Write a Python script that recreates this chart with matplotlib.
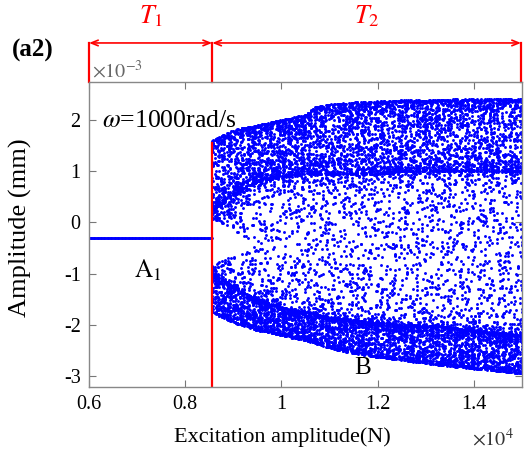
import numpy as np
import matplotlib
matplotlib.use('Agg')
import matplotlib.pyplot as plt
from matplotlib.transforms import blended_transform_factory

plt.rcParams['font.family'] = ['Liberation Serif', 'DejaVu Serif']
plt.rcParams['mathtext.fontset'] = 'stix'
plt.rcParams['axes.unicode_minus'] = False

# ---- values (x in 1e4 N, amplitude in 1e-3 m) ----
f_start, f_jump, f_end = 0.6, 0.856, 1.5
amp_periodic = -0.30          # single branch A1 before the jump
jump_top = 1.55               # top of the red jump line

# envelope of the chaotic region B
env_x = [0.856, 0.90, 0.95, 1.00, 1.05, 1.07, 1.10, 1.15, 1.20, 1.25, 1.30, 1.35, 1.40, 1.45, 1.50]
env_upper = [1.60, 1.80, 1.90, 2.00, 2.10, 2.25, 2.30, 2.34, 2.36, 2.38, 2.38, 2.40, 2.40, 2.42, 2.40]
env_top_band = [0.25, 0.55, 0.80, 0.90, 0.95, 0.95, 0.95, 0.95, 0.95, 1.00, 1.00, 1.00, 1.00, 1.00, 1.00]
env_bot_band = [-1.00, -1.25, -1.50, -1.65, -1.75, -1.78, -1.85, -1.90, -1.95, -2.00, -2.00, -2.05, -2.10, -2.15, -2.20]
env_lower = [-1.75, -1.95, -2.10, -2.20, -2.30, -2.35, -2.45, -2.55, -2.62, -2.68, -2.75, -2.80, -2.85, -2.90, -2.95]

# white wedge just after the jump
gap_x = [0.856, 0.90, 0.95]
gap_hi = [0.08, -0.15, -0.41]
gap_lo = [-0.84, -0.62, -0.41]

xtick_vals = [0.6, 0.8, 1.0, 1.2, 1.4]
xtick_labels = ['0.6', '0.8', '1', '1.2', '1.4']
ytick_vals = [-3, -2, -1, 0, 1, 2]

# ---- sweep of the excitation amplitude ----
F1 = np.linspace(f_start, f_jump, 160)
F2 = np.linspace(f_jump, f_end, 260)

# Poincare-like iterates from the logistic map (deterministic chaos)
n_skip, n_keep = 20, 42
u = 0.13 + 0.74 * ((F2 * 1e4 * 0.61803) % 1)
v = 0.11 + 0.77 * ((F2 * 1e4 * 0.41421) % 1)
us, vs = [], []
for k in range(n_skip + n_keep):
    u = 4 * u * (1 - u)
    v = 4 * v * (1 - v)
    if k >= n_skip:
        us.append(u.copy())
        vs.append(v.copy())
U = np.array(us).T
W = 2 / np.pi * np.arcsin(np.sqrt(np.array(vs).T))

up = np.interp(F2, env_x, env_upper)[:, None]
mt = np.interp(F2, env_x, env_top_band)[:, None]
mb = np.interp(F2, env_x, env_bot_band)[:, None]
lo = np.interp(F2, env_x, env_lower)[:, None]
gh = np.interp(F2, gap_x, gap_hi)[:, None]
gl = np.interp(F2, gap_x, gap_lo)[:, None]

# middle part, skipping the gap
L1 = gl - mb
s = U * (L1 + (mt - gh))
y_mid = np.where(s < L1, mb + s, gh + (s - L1))
y_top = mt + (up - mt) * U
y_bot = lo + (mb - lo) * U
Y = np.where(W < 0.40, y_top, np.where(W < 0.76, y_bot, y_mid))
X = np.repeat(F2[:, None], n_keep, axis=1)

# ---- figure ----
fig = plt.figure(figsize=(5.27, 4.57), dpi=100)
ax = fig.add_axes([89 / 527, 70 / 457, 433 / 527, 305 / 457])

ax.plot(F1, np.full_like(F1, amp_periodic), 'o', color='#0000ff', ms=2.0, mew=0)
ax.plot(X.ravel(), Y.ravel(), 'o', color='#0000ff', ms=2.1, mew=0)
ax.plot([f_jump, f_jump], [-3.25, jump_top], color='#ff0000', lw=1.6)

ax.set_xlim(f_start, f_end)
ax.set_ylim(-3.21, 2.74)
ax.set_xticks(xtick_vals)
ax.set_xticklabels(xtick_labels)
ax.set_yticks(ytick_vals)
ax.tick_params(direction='in', length=5, top=True, right=True, labelsize=14.5,
               color='#777777', pad=6)
for sp in ax.spines.values():
    sp.set_color('#888888')
    sp.set_linewidth(1.0)

# header with T1 / T2 ranges
trans = blended_transform_factory(ax.transData, ax.transAxes)
y_arr = 1.128
for xv in [f_start, f_jump, f_end - 0.002]:
    ax.plot([xv, xv], [1.0, y_arr], color='#ff0000', lw=1.6, transform=trans, clip_on=False)
for a, b in [(f_start, f_jump), (f_jump, f_end - 0.002)]:
    ax.annotate('', xy=(a, y_arr), xytext=(b, y_arr), xycoords=trans, textcoords=trans,
                arrowprops=dict(arrowstyle='<->,head_length=0.5,head_width=0.2',
                                color='#ff0000', lw=1.2, shrinkA=0, shrinkB=0),
                annotation_clip=False)
ax.text((f_start + f_jump) / 2, 1.215, '$T_1$', transform=trans, color='#ff0000',
        fontsize=19, ha='center', va='center')
ax.text((f_jump + f_end) / 2, 1.215, '$T_2$', transform=trans, color='#ff0000',
        fontsize=19, ha='center', va='center')
ax.text(0.606, 1.035, r'$\times10^{-3}$', transform=trans, color='#666666',
        fontsize=14.5, ha='left', va='center')

# annotations
ax.text(0.627, 1.98, r'$\omega$=1000rad/s', fontsize=18.5, ha='left', va='center')
ax.text(0.723, -0.94, r'$\mathrm{A}_1$', fontsize=18, ha='center', va='center')
ax.text(1.169, -2.83, 'B', fontsize=18, ha='center', va='center')

fig.text(12 / 527, 1 - 50 / 457, '(a2)', fontsize=18, fontweight='bold', ha='left', va='center')
fig.text(282 / 527, 1 - 437 / 457, 'Excitation amplitude(N)', fontsize=16, ha='center', va='center')
fig.text(20 / 527, 1 - 228 / 457, 'Amplitude (mm)', fontsize=19, rotation=90, ha='center', va='center')
fig.text(493 / 527, 1 - 440 / 457, r'$\times10^4$', fontsize=14.5, color='#333333', ha='center', va='center')

fig.savefig('out.png', dpi=100)
